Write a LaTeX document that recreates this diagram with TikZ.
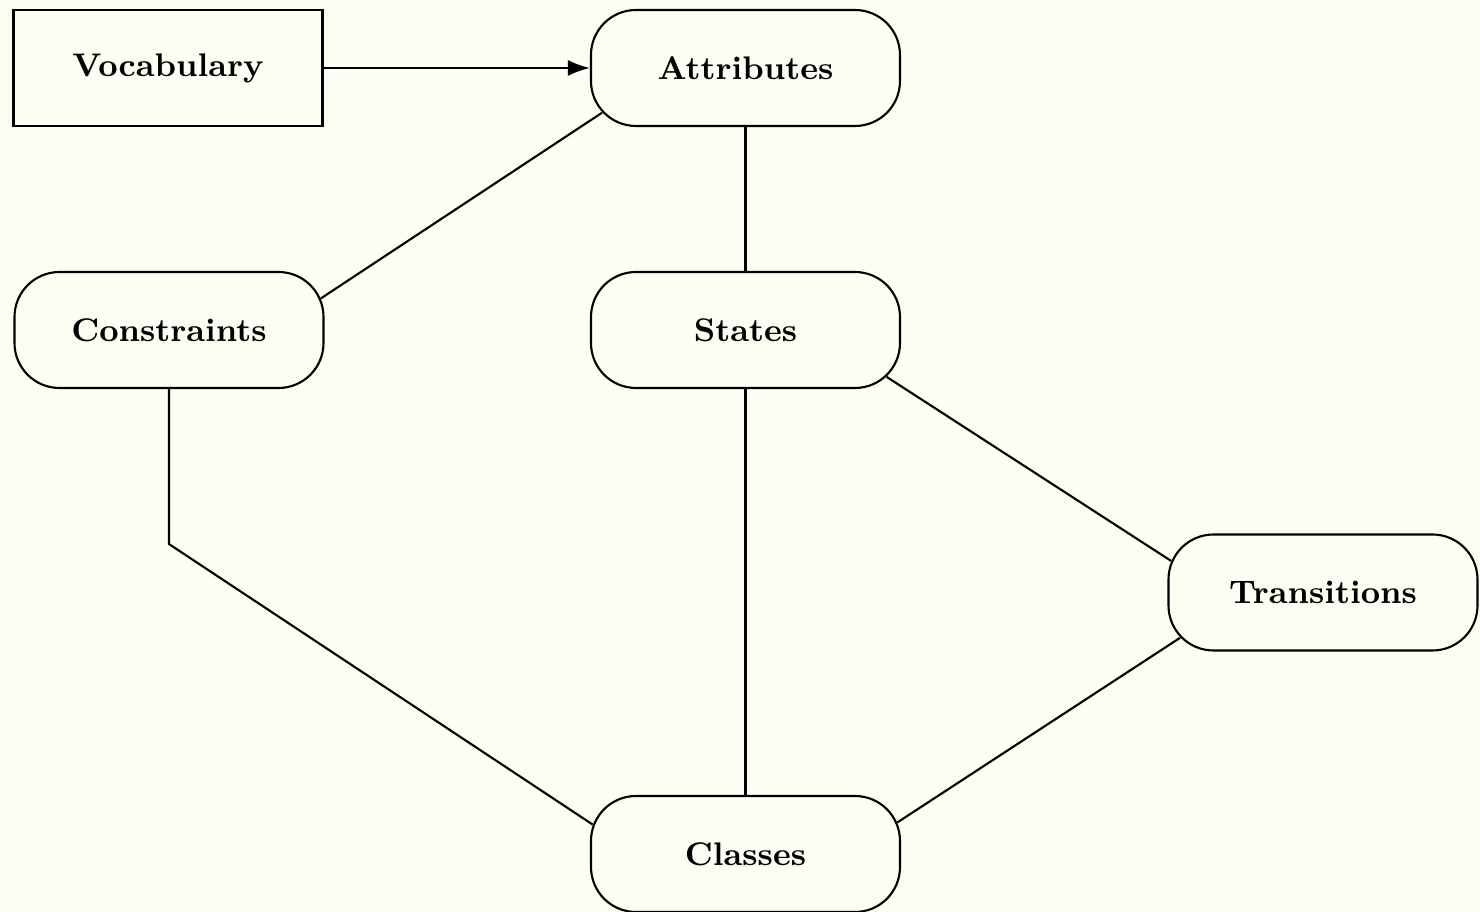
\documentclass[tikz,border=0pt]{standalone}
\usepackage{tikz}
\usetikzlibrary{arrows.meta,positioning,calc}
\definecolor{paper}{RGB}{253,253,243}

\begin{document}
\begin{tikzpicture}[
    box/.style={draw, line width=0.6pt, minimum width=3.09cm, minimum height=1.16cm,
                font=\fontsize{9.3}{11}\selectfont\bfseries},
    pill/.style={box, rounded corners=0.45cm},
    link/.style={line width=0.6pt}]
    % Paper
    \fill[paper] (0,0) rectangle (14.8,9.12);
    \useasboundingbox (0,0) rectangle (14.8,9.12);

    % Nodes
    \node[box]  (vocab)   at (1.68,8.44)  {Vocabulary};
    \node[pill] (attrs)   at (7.455,8.44) {Attributes};
    \node[pill] (constr)  at (1.69,5.82)  {Constraints};
    \node[pill] (states)  at (7.455,5.82) {States};
    \node[pill] (trans)   at (13.23,3.195) {Transitions};
    \node[pill] (classes) at (7.455,0.58) {Classes};

    % Links
    \draw[link,-{Latex[length=2.2mm,width=1.6mm]}] (vocab.east) -- (attrs.west);
    \draw[link] ($(attrs.south west)+(0.45,0.45)+(223:0.45)$)
        -- ($(constr.north east)+(-0.45,-0.45)+(23:0.45)$);
    \draw[link] (attrs.south) -- (states.north);
    \draw[link] (states.south) -- (classes.north);
    \draw[link] (constr.south) -- ++(0,-1.55)
        -- ($(classes.north west)+(0.45,-0.45)+(160:0.45)$);
    \draw[link] ($(states.south east)+(-0.45,0.45)+(-47:0.45)$)
        -- ($(trans.north west)+(0.45,-0.45)+(157:0.45)$);
    \draw[link] ($(trans.south west)+(0.45,0.45)+(224:0.45)$)
        -- ($(classes.north east)+(-0.45,-0.45)+(23:0.45)$);
\end{tikzpicture}
\end{document}
